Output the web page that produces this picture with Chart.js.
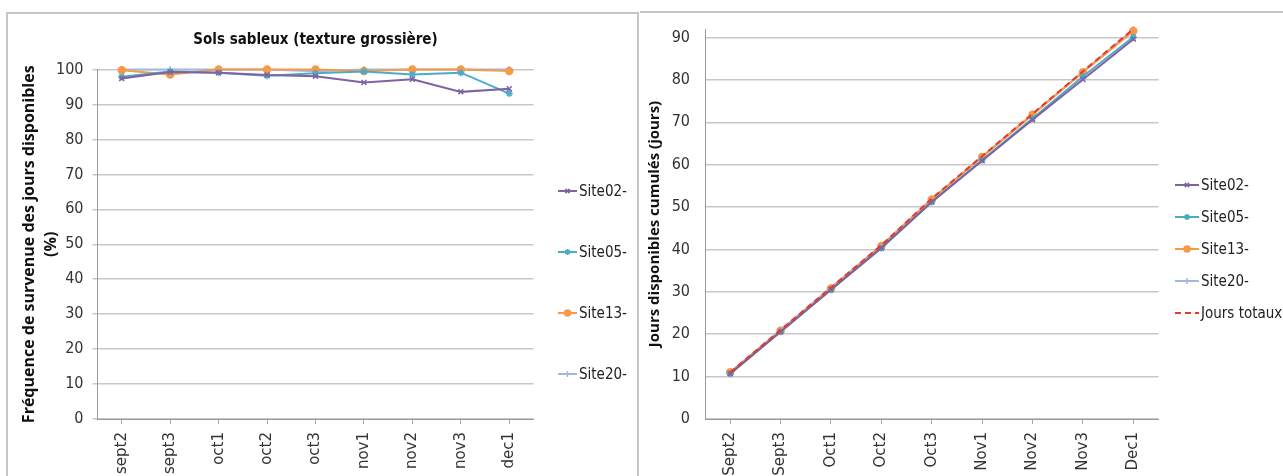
<!DOCTYPE html>
<html>
<head>
<meta charset="utf-8">
<script src="https://cdn.jsdelivr.net/npm/chart.js@4.4.1/dist/chart.umd.min.js"></script>
<style>
body{margin:0;background:#fff;width:1283px;height:476px;overflow:hidden;position:relative}
#cadreG{position:absolute;left:6px;top:12px;width:629px;height:480px;border:2px solid #c6c6c6}
#cadreD{position:absolute;left:640px;top:11px;width:650px;height:0;border-top:2px solid #c6c6c6}
.boite{position:absolute;top:0;height:476px}
</style>
</head>
<body>
<div id="cadreG"></div>
<div id="cadreD"></div>
<div class="boite" style="left:0;width:640px"><canvas id="graphFreq"></canvas></div>
<div class="boite" style="left:640px;width:643px"><canvas id="graphCumul"></canvas></div>
<script>
// periodes (decades)
var periodesFreq = ['sept2','sept3','oct1','oct2','oct3','nov1','nov2','nov3','dec1'];
var periodesCumul = ['Sept2','Sept3','Oct1','Oct2','Oct3','Nov1','Nov2','Nov3','Dec1'];

// frequence des jours disponibles (%)
var site02Freq = [97.4, 99.3, 99.1, 98.4, 98.1, 96.3, 97.2, 93.6, 94.5];
var site05Freq = [97.9, 99.4, 99.1, 98.2, 98.9, 99.4, 98.6, 99.1, 93.1];
var site13Freq = [99.8, 98.6, 100, 100, 100, 99.6, 100, 100, 99.6];
var site20Freq = [100, 100, 100, 100, 99.5, 100, 100, 100, 100];

// jours disponibles cumules
var site02Cumul = [10.7, 20.6, 30.5, 40.4, 51.2, 60.9, 70.6, 80.1, 89.6];
var site05Cumul = [10.7, 20.6, 30.5, 40.3, 51.2, 61.1, 70.9, 80.8, 90.1];
var site13Cumul = [11, 20.8, 30.8, 40.8, 51.8, 61.8, 71.8, 81.8, 91.5];
var site20Cumul = [11, 21, 31, 41, 51.9, 61.9, 71.9, 81.9, 91.9];
var joursTotaux = [11, 21, 31, 41, 52, 62, 72, 82, 92];

var NARROW = '"Liberation Sans Narrow", "DejaVu Sans Condensed", sans-serif';
var COUL = {s02:'#7f63a1', s05:'#4aacc5', s13:'#f59a4a', s20:'#a3b8dc', tot:'#e8392b'};

function serie(label, data, coul, style) {
	return {
		label: label, data: data,
		borderColor: coul, backgroundColor: coul,
		pointBackgroundColor: coul, pointBorderColor: coul,
		pointStyle: style, pointRadius: 3.5, pointBorderWidth: 1.5,
		borderWidth: 2, tension: 0, clip: 8, order: 1
	};
}

// petite legende dessinee a la main (ligne + marqueur + texte)
var legende = {
	id: 'legende',
	afterDraw: function(chart, args, o) {
		var ctx = chart.ctx;
		ctx.save();
		chart.data.datasets.forEach(function(ds, i) {
			var y = o.y0 + i * o.pas;
			ctx.strokeStyle = ds.borderColor;
			ctx.fillStyle = ds.borderColor;
			ctx.lineWidth = 2;
			ctx.setLineDash(ds.borderDash || []);
			ctx.beginPath();
			ctx.moveTo(o.x, y);
			ctx.lineTo(o.x + o.w, y);
			ctx.stroke();
			ctx.setLineDash([]);
			if (ds.pointRadius && Chart.helpers && Chart.helpers.drawPoint) {
				ctx.lineWidth = 1.5;
				Chart.helpers.drawPoint(ctx, {pointStyle: ds.pointStyle, radius: 3, borderWidth: 1.5, rotation: 0}, o.x + o.w / 2, y);
			}
			ctx.fillStyle = '#222';
			ctx.font = '15px ' + NARROW;
			ctx.textBaseline = 'middle';
			ctx.textAlign = 'left';
			ctx.fillText(ds.label, o.x + o.w + 2, y + 1);
		});
		ctx.restore();
	}
};

var titre = {
	id: 'titre',
	afterDraw: function(chart, args, o) {
		if (!o.text) return;
		var ctx = chart.ctx, a = chart.chartArea;
		ctx.save();
		ctx.font = 'bold 15px ' + NARROW;
		ctx.fillStyle = '#111';
		ctx.textAlign = 'center';
		ctx.textBaseline = 'middle';
		ctx.fillText(o.text, (a.left + a.right) / 2, o.y);
		ctx.restore();
	}
};

function axeX(labels) {
	return {
		type: 'category', labels: labels, offset: true,
		grid: {drawOnChartArea: false, drawTicks: true, tickLength: 5, color: '#a6a6a6', offset: false},
		border: {color: '#9a9a9a', width: 1},
		ticks: {autoSkip: false, minRotation: 90, maxRotation: 90, padding: 8, color: '#333', font: {family: '"DejaVu Sans", sans-serif', size: 15}},
		afterFit: function(s) { s.height = 57; }
	};
}

Chart.defaults.animation = false;

new Chart(document.getElementById('graphFreq'), {
	type: 'line',
	data: {
		labels: periodesFreq,
		datasets: [
			serie('Site02-', site02Freq, COUL.s02, 'crossRot'),
			serie('Site05-', site05Freq, COUL.s05, 'star'),
			serie('Site13-', site13Freq, COUL.s13, 'circle'),
			serie('Site20-', site20Freq, COUL.s20, 'cross')
		]
	},
	options: {
		responsive: true, maintainAspectRatio: false,
		layout: {padding: {top: 69.5, right: 106.5, bottom: 0, left: 0}},
		scales: {
			x: axeX(periodesFreq),
			y: {
				min: 0, max: 100,
				ticks: {stepSize: 10, padding: 9, color: '#333', font: {family: NARROW, size: 16}},
				grid: {color: '#c8c8c8', lineWidth: 1.5, tickLength: 5},
				border: {color: '#9a9a9a', width: 1},
				title: {display: true, text: ['Fréquence de survenue des jours disponibles', '(%)'], color: '#111',
					font: {family: '"Open Sans", sans-serif', size: 16, weight: 'bold', lineHeight: 1.35}, padding: {top: 19, bottom: 0}},
				afterFit: function(s) { s.width = 97.5; }
			}
		},
		plugins: {
			legend: {display: false},
			tooltip: {enabled: false},
			titre: {text: 'Sols sableux (texture grossière)', y: 40},
			legende: {x: 558, w: 19, y0: 191, pas: 61}
		}
	},
	plugins: [titre, legende]
});

var tot = serie('Jours totaux', joursTotaux, COUL.tot, false);
tot.pointRadius = 0;
tot.borderDash = [6, 4];
tot.order = 0;

new Chart(document.getElementById('graphCumul'), {
	type: 'line',
	data: {
		labels: periodesCumul,
		datasets: [
			serie('Site02-', site02Cumul, COUL.s02, 'crossRot'),
			serie('Site05-', site05Cumul, COUL.s05, 'star'),
			serie('Site13-', site13Cumul, COUL.s13, 'circle'),
			serie('Site20-', site20Cumul, COUL.s20, 'cross'),
			tot
		]
	},
	options: {
		responsive: true, maintainAspectRatio: false,
		layout: {padding: {top: 29, right: 124.5, bottom: 0, left: 0}},
		scales: {
			x: axeX(periodesCumul),
			y: {
				min: 0, max: 92,
				ticks: {stepSize: 10, includeBounds: false, padding: 15, color: '#333', font: {family: NARROW, size: 16}},
				grid: {color: '#c8c8c8', lineWidth: 1.5, drawTicks: false},
				border: {color: '#9a9a9a', width: 1},
				title: {display: true, text: 'Jours disponibles cumulés (jours)', color: '#111',
					font: {family: '"Open Sans", sans-serif', size: 15, weight: 'bold', lineHeight: 1.2}, padding: {top: 6, bottom: 0}},
				afterFit: function(s) { s.width = 65; }
			}
		},
		plugins: {
			legend: {display: false},
			tooltip: {enabled: false},
			legende: {x: 535, w: 24, y0: 185, pas: 32}
		}
	},
	plugins: [legende]
});
</script>
</body>
</html>
